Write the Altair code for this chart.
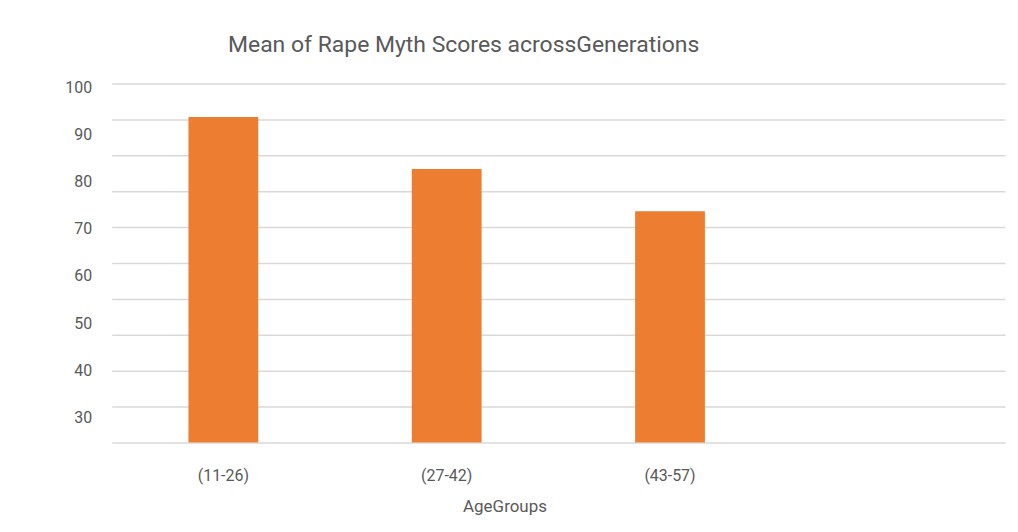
import altair as alt
import pandas as pd

categories = ["(11-26)", "(27-42)", "(43-57)"]
axis_slots = ["(11-26)", "(27-42)", "(43-57)", " "]
means = [90.7, 76.2, 64.4]
label_values = [30, 40, 50, 60, 70, 80, 90, 100]
grid_values = [0, 10, 20, 30, 40, 50, 60, 70, 80, 90, 100]

FONT = "Roboto, Noto Sans, sans-serif"
GREY = "#595959"

bars_df = pd.DataFrame({"group": categories, "mean": means})
labels_df = pd.DataFrame({"lab": label_values})

bars = alt.Chart(bars_df).mark_bar(color="#ED7D31").encode(
    x=alt.X(
        "group:N",
        sort=axis_slots,
        scale=alt.Scale(domain=axis_slots, paddingInner=0.6875, paddingOuter=0.34375),
        axis=alt.Axis(
            title="AgeGroups",
            labelAngle=0,
            ticks=False,
            domain=False,
            grid=False,
            labelPadding=25,
            labelFontSize=16,
            labelFont=FONT,
            labelColor=GREY,
            titleFont=FONT,
            titleFontSize=17,
            titleFontWeight="normal",
            titleColor=GREY,
            titlePadding=15,
            titleX=394,
            titleAlign="center",
        ),
    ),
    y=alt.Y(
        "mean:Q",
        scale=alt.Scale(domain=[0, 100], nice=False),
        axis=alt.Axis(
            orient="right",
            title=None,
            labels=False,
            ticks=False,
            domain=False,
            values=grid_values,
            grid=True,
            gridColor="#D9D9D9",
            gridWidth=1.5,
        ),
    ),
)

labels = alt.Chart(labels_df).mark_point(opacity=0).encode(
    y=alt.Y(
        "lab:Q",
        scale=alt.Scale(domain=[24.72, 100.78], nice=False, zero=False),
        axis=alt.Axis(
            orient="left",
            title=None,
            values=label_values,
            grid=False,
            ticks=False,
            domain=False,
            labelPadding=20,
            labelFontSize=16,
            labelFont=FONT,
            labelColor=GREY,
        ),
    ),
)

chart = (
    alt.layer(bars, labels)
    .resolve_scale(y="independent")
    .properties(
        width=896,
        height=360,
        background="white",
        title=alt.TitleParams(
            "Mean of Rape Myth Scores acrossGenerations",
            font=FONT,
            fontSize=23,
            fontWeight="normal",
            color=GREY,
            anchor="middle",
            dx=-95,
            offset=22,
        ),
        autosize=alt.AutoSizeParams(type="none"),
        padding={"left": 104, "top": 75, "right": 5, "bottom": 80},
    )
    .configure_view(stroke=None, strokeWidth=0)
)

chart.save("out.html", embed_options={"renderer": "svg", "actions": False})
